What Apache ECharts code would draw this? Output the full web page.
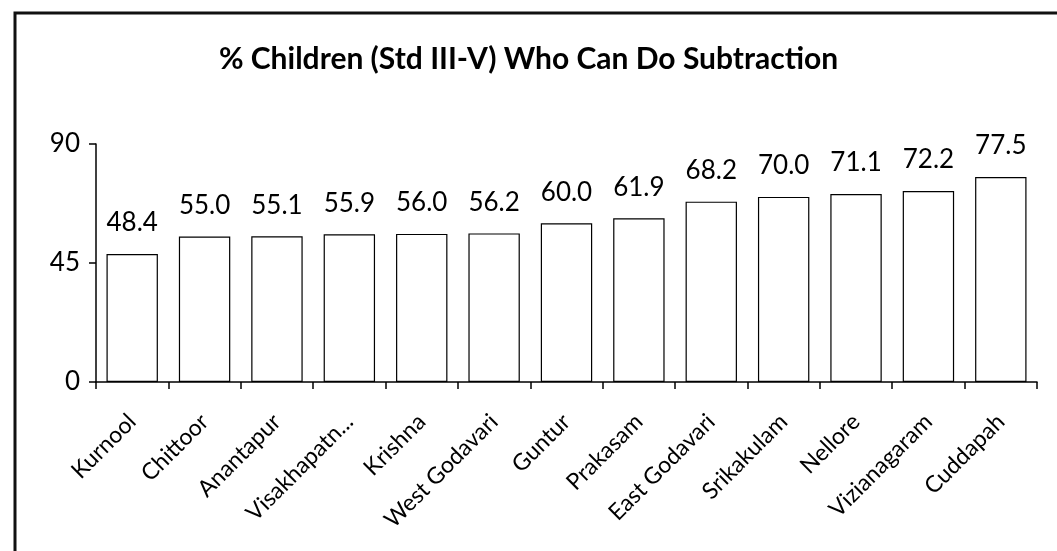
<!DOCTYPE html>
<html>
<head>
<meta charset="utf-8">
<script src="https://cdn.jsdelivr.net/npm/echarts@6/dist/echarts.min.js"></script>
<style>
html,body{margin:0;padding:0;background:#fff;}
#chart{width:1057px;height:551px;}
</style>
</head>
<body>
<div id="chart"></div>
<script>
const titleText = '% Children (Std III-V) Who Can Do Subtraction';
const categories = ['Kurnool','Chittoor','Anantapur','Visakhapatn...','Krishna','West Godavari','Guntur','Prakasam','East Godavari','Srikakulam','Nellore','Vizianagaram','Cuddapah'];
const values = [48.4, 55.0, 55.1, 55.9, 56.0, 56.2, 60.0, 61.9, 68.2, 70.0, 71.1, 72.2, 77.5];
const yTicks = [0, 45, 90];

const FONT = 'Lato, "Open Sans", sans-serif';
const chart = echarts.init(document.getElementById('chart'), null, {renderer:'canvas'});
chart.setOption({
  backgroundColor: '#fff',
  animation: false,
  title: {
    text: titleText,
    left: 'center',
    top: 39,
    textStyle: {fontFamily: FONT, fontWeight: 'bold', fontSize: 30, color: '#000'}
  },
  graphic: [{
    type: 'rect',
    shape: {x: 15, y: 13, width: 1100, height: 600},
    style: {fill: 'none', stroke: '#111', lineWidth: 3},
    silent: true
  }],
  grid: {left: 96, right: 20, top: 144, bottom: 169, containLabel: false},
  xAxis: {
    type: 'category',
    data: categories,
    boundaryGap: true,
    axisLine: {lineStyle: {color: '#000', width: 1.5}},
    axisTick: {show: true, alignWithLabel: false, length: 7, lineStyle: {color: '#000', width: 1.5}},
    axisLabel: {rotate: 45, fontFamily: FONT, fontSize: 23, color: '#000', margin: 36, interval: 0}
  },
  yAxis: {
    type: 'value',
    min: yTicks[0],
    max: yTicks[yTicks.length - 1],
    interval: 45,
    splitLine: {show: false},
    axisLine: {show: true, lineStyle: {color: '#000', width: 1.5}},
    axisTick: {show: true, length: 7, lineStyle: {color: '#000', width: 1.5}},
    axisLabel: {fontFamily: FONT, fontSize: 26, color: '#000', margin: 16}
  },
  series: [{
    type: 'bar',
    data: values,
    barCategoryGap: '29%',
    itemStyle: {color: '#fff', borderColor: '#000', borderWidth: 1.2},
    label: {
      show: true,
      position: 'top',
      distance: 18,
      formatter: p => p.value.toFixed(1),
      fontFamily: FONT, fontSize: 26, color: '#000'
    }
  }]
});
</script>
</body>
</html>
